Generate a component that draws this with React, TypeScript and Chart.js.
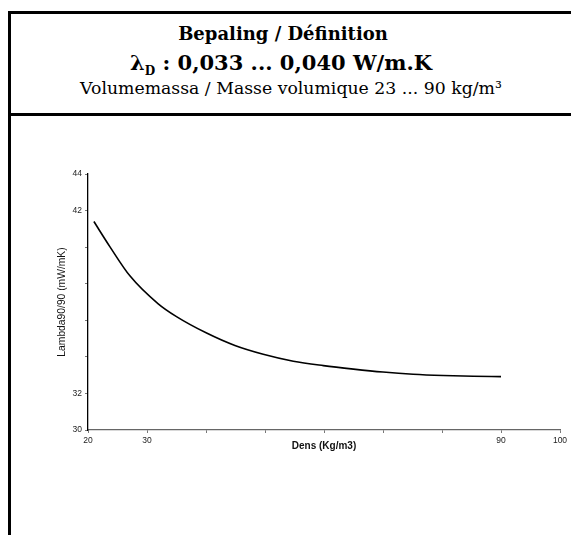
import React, { useEffect, useRef } from "react";
import { Chart, registerables } from "chart.js";

Chart.register(...registerables);

const density = [21, 23.7, 27.1, 31.9, 35, 40.1, 44.9, 49.7, 54.8, 59.9, 65, 70, 75.1, 80.2, 85.3, 90];
const lambda = [41.4, 40.03, 38.43, 36.9, 36.2, 35.3, 34.62, 34.14, 33.76, 33.52, 33.33, 33.17, 33.05, 32.98, 32.94, 32.92];
const xTickLabels = [20, 30, 90, 100];
const yTickLabels = [30, 32, 42, 44];

const serif = '"DejaVu Serif", "Liberation Serif", serif';
const sans = '"Liberation Sans", Arial, sans-serif';

export default function App() {
  const ref = useRef<HTMLCanvasElement | null>(null);

  useEffect(() => {
    if (!ref.current) return;
    const chart = new Chart(ref.current, {
      type: "line",
      data: {
        datasets: [
          {
            data: density.map((d, i) => ({ x: d, y: lambda[i] })),
            borderColor: "#000",
            borderWidth: 1.6,
            pointRadius: 0,
            cubicInterpolationMode: "monotone",
            fill: false,
          },
        ],
      },
      options: {
        animation: false,
        responsive: false,
        maintainAspectRatio: false,
        layout: { padding: { top: 57, right: 11, left: 0, bottom: 0 } },
        plugins: { legend: { display: false }, tooltip: { enabled: false } },
        scales: {
          x: {
            type: "linear",
            min: 20,
            max: 100,
            ticks: {
              stepSize: 10,
              color: "#222",
              font: { family: sans, size: 8.5 },
              padding: 3,
              maxRotation: 0,
              autoSkip: false,
              callback: (v: any) => (xTickLabels.includes(Number(v)) ? String(v) : ""),
            },
            grid: { display: true, drawOnChartArea: false, drawTicks: true, tickLength: 3, color: "#777" },
            border: { display: true, color: "#666", width: 1.3 },
            title: {
              display: true,
              text: "Dens (Kg/m3)",
              color: "#111",
              font: { family: sans, size: 10, weight: "bold" },
              padding: { top: 0, bottom: 83 },
            },
            afterFit: (s: any) => {
              s.height = 105;
            },
          },
          y: {
            type: "linear",
            min: 30,
            max: 44,
            ticks: {
              stepSize: 2,
              color: "#222",
              font: { family: sans, size: 8.5 },
              padding: 3,
              autoSkip: false,
              callback: (v: any) => (yTickLabels.includes(Number(v)) ? String(v) : ""),
            },
            grid: { display: true, drawOnChartArea: false, drawTicks: true, tickLength: 3, color: "#777" },
            border: { display: true, color: "#000", width: 1.3 },
            title: {
              display: true,
              text: "Lambda90/90 (mW/mK)",
              color: "#111",
              font: { family: sans, size: 10.3 },
              padding: { top: 56, bottom: 0 },
            },
            afterFit: (s: any) => {
              s.width = 88;
            },
          },
        },
      },
    });
    return () => chart.destroy();
  }, []);

  return (
    <div style={{ position: "absolute", left: 0, top: 0, width: 571, height: 535, overflow: "hidden", background: "#fff" }}>
      <div
        style={{
          position: "absolute",
          left: 8,
          top: 11,
          width: 700,
          height: 700,
          borderLeft: "3px solid #000",
          borderTop: "3px solid #000",
        }}
      />
      <div style={{ position: "absolute", left: 8, top: 113, width: 700, height: 3, background: "#000" }} />
      <div
        style={{
          position: "absolute",
          left: 0,
          width: 566,
          top: 25,
          textAlign: "center",
          fontFamily: serif,
          fontWeight: "bold",
          fontSize: 18,
          lineHeight: "18px",
          color: "#000",
          whiteSpace: "nowrap",
        }}
      >
        Bepaling / Définition
      </div>
      <div
        style={{
          position: "absolute",
          left: 0,
          width: 562,
          top: 52,
          textAlign: "center",
          fontFamily: serif,
          fontWeight: "bold",
          fontSize: 21,
          lineHeight: "21px",
          color: "#000",
          whiteSpace: "nowrap",
        }}
      >
        λ<sub style={{ fontSize: 12, verticalAlign: "-5px" }}>D</sub> : 0,033 ... 0,040 W/m.K
      </div>
      <div
        style={{
          position: "absolute",
          left: 0,
          width: 582,
          top: 80,
          textAlign: "center",
          fontFamily: serif,
          fontSize: 17.3,
          lineHeight: "17px",
          color: "#000",
          whiteSpace: "nowrap",
        }}
      >
        Volumemassa / Masse volumique 23 ... 90 kg/m³
      </div>
      <canvas ref={ref} width={571} height={418} style={{ position: "absolute", left: 0, top: 117, width: 571, height: 418 }} />
    </div>
  );
}
